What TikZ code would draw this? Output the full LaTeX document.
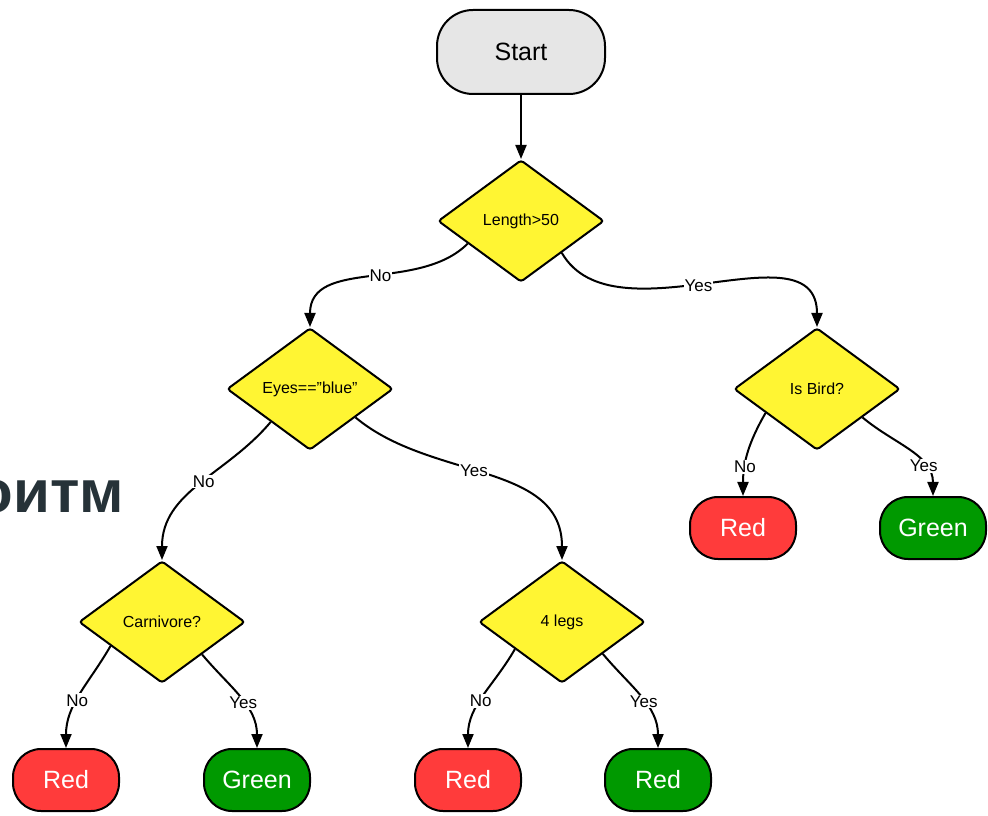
\documentclass[tikz,border=0pt]{standalone}
\usepackage{fontspec}
\setmainfont{Liberation Sans}
\usetikzlibrary{shapes.geometric,arrows.meta}
\definecolor{decyellow}{HTML}{FFF533}
\definecolor{outred}{HTML}{FF3B3B}
\definecolor{outgreen}{HTML}{009900}
\definecolor{startgray}{HTML}{E6E6E6}
\definecolor{headgray}{HTML}{263238}
\tikzset{
>={Triangle[length=14pt,width=11pt]},
  decision/.style={
    diamond,
    draw=black, line width=2pt,
    fill=decyellow,
    rounded corners=3pt,
    minimum width=166pt,
    minimum height=122pt,
    inner sep=0pt,
    font=\fontsize{16}{19}\selectfont},
  terminal/.style={
    rectangle,
    rounded corners=36pt,
    draw=black, line width=2pt,
    fill=startgray,
    minimum width=168pt,
    minimum height=84pt,
    font=\fontsize{25}{30}\selectfont},
  outcome/.style={
    rectangle,
    rounded corners=28pt,
    draw=black, line width=2pt,
    minimum width=106pt,
    minimum height=62pt,
    text=white,
    font=\fontsize{25}{30}\selectfont},
  red/.style={outcome, fill=outred},
  green/.style={outcome, fill=outgreen},
  line/.style={draw, line width=2pt, ->},
  branch/.style={fill=white, inner sep=1pt, font=\fontsize{17}{20}\selectfont},
}
\begin{document}
\begin{tikzpicture}[x=1pt,y=1pt]
     \useasboundingbox (0,0) rectangle (988,815);
     \fill[white] (0,0) rectangle (988,815);
     % heading, cut at the left border
     \node[anchor=base east, inner sep=0pt, text=headgray,
           font=\fontsize{60}{70}\selectfont\bfseries] (Heading) at (124,302) {оитм};
     % nodes
     \node[terminal] (Start)  at (521,763) {Start};
     \node[decision] (Length) at (521,594) {Length>50};
     \node[decision] (Eyes)   at (310,426) {Eyes==\symbol{34}blue\symbol{34}};
     \node[decision] (Bird)   at (817,426) {Is Bird?};
     \node[decision] (Carni)  at (162,193) {Carnivore?};
     \node[decision] (Legs)   at (562,193) {4 legs};
     \node[red]   (BirdNo)   at (743,287) {Red};
     \node[green] (BirdYes)  at (933,287) {Green};
     \node[red]   (CarniNo)  at (66,35)   {Red};
     \node[green] (CarniYes) at (257,35)  {Green};
     \node[red]   (LegsNo)   at (468,35)  {Red};
     \node[green] (LegsYes)  at (658,35)  {Red};
     % connectors
     \draw[line] (Start) -- (Length);
     \draw[line] (Length.203) to[out=225,in=90] node[branch,pos=0.45] {No} (Eyes.north);
     \draw[line] (Length.322) to[out=-60,in=90] node[branch,pos=0.47] {Yes} (Bird.north);
     \draw[line] (Eyes.220) to[out=230,in=90] node[branch,pos=0.47] {No} (Carni.north);
     \draw[line] (Eyes.328) to[out=-40,in=90] node[branch,pos=0.45] {Yes} (Legs.north);
     \draw[line] (Bird.205) to[out=240,in=90] node[branch,pos=0.68] {No} (BirdNo.north);
     \draw[line] (Bird.328) to[out=-40,in=90] node[branch,pos=0.7] {Yes} (BirdYes.north);
     \draw[line] (Carni.205) to[out=240,in=90] node[branch,pos=0.56] {No} (CarniNo.north);
     \draw[line] (Carni.321) to[out=-50,in=90] node[branch,pos=0.56] {Yes} (CarniYes.north);
     \draw[line] (Legs.210) to[out=240,in=90] node[branch,pos=0.55] {No} (LegsNo.north);
     \draw[line] (Legs.322) to[out=-50,in=90] node[branch,pos=0.55] {Yes} (LegsYes.north);
\end{tikzpicture}
\end{document}
